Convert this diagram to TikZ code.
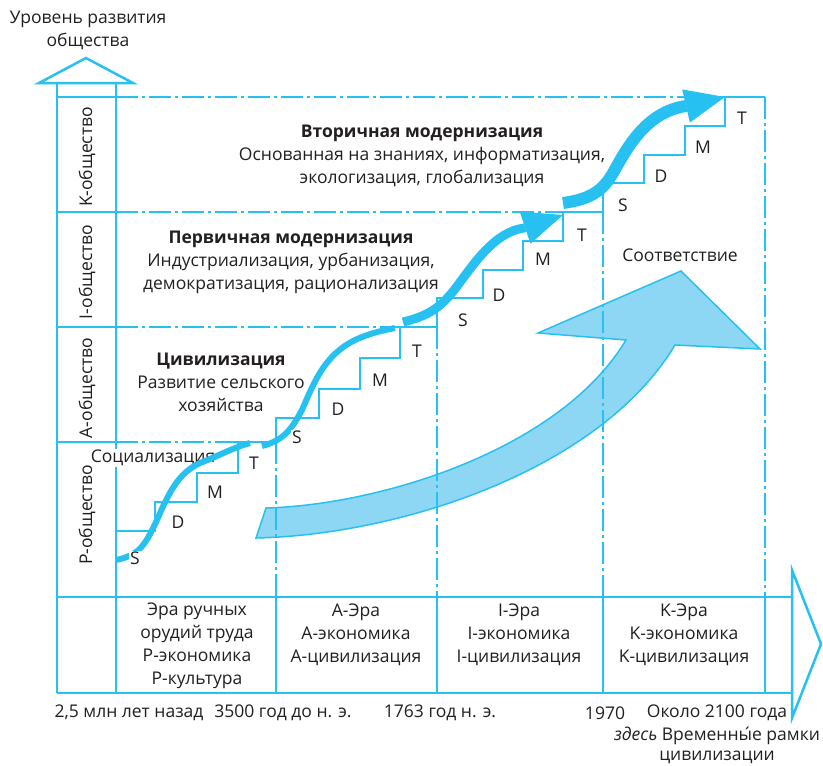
\documentclass[tikz,border=0pt]{standalone}
\usepackage{fontspec}
\setmainfont{Open Sans}
\usetikzlibrary{positioning,arrows.meta}
\definecolor{lineBlue}{RGB}{38,193,240}
\definecolor{arrowFill}{RGB}{142,215,244}
\definecolor{textGray}{RGB}{35,31,32}

\begin{document}
\begin{tikzpicture}[
	x=1pt, y=-1pt,
	frame/.style={draw=lineBlue, line width=2.5pt},
	dashdot/.style={draw=lineBlue, line width=2pt, dash pattern=on 22pt off 4pt on 3pt off 4pt},
	stairs/.style={draw=lineBlue, line width=2pt},
	curve/.style={draw=lineBlue, line width=6pt},
	txt/.style={font=\fontsize{17.5}{23}\selectfont, text=textGray, align=center, inner sep=1pt},
	stepLbl/.style={txt, fill=white},
	society/.style={txt, rotate=90},
	]
	\useasboundingbox (0,0) rectangle (823,766);
	
	% axes
	\draw[frame, fill=white] (39,83) -- (86,58) -- (133,83) -- cycle;
	\draw[frame, fill=white] (792,570) -- (821,644) -- (792,718) -- cycle;
	\draw[frame] (57,83) -- (57,693) (116,83) -- (116,693);
	\draw[frame] (57,97) -- (116,97) (57,212) -- (116,212) (57,327) -- (116,327) (57,442) -- (116,442);
	\draw[frame] (57,597) -- (792,597) (57,693) -- (792,693);
	\foreach \x in {276,437,603,765}
		\draw[frame] (\x,597) -- (\x,693);
	
	% big arrow
	\draw[draw=lineBlue, line width=1.5pt, fill=arrowFill]
		(266,508) .. controls (380,505) and (560,450) .. (626,340)
		-- (538,333) -- (681,271) -- (760,349) -- (675,345)
		.. controls (600,470) and (400,535) .. (256,538) -- cycle;
	
	% levels
	\draw[dashdot] (116,97) -- (725,97);
	\draw[dashdot] (116,212) -- (563,212);
	\draw[dashdot] (116,327) -- (400,327);
	\draw[dashdot] (116,442) -- (238,442);
	\draw[dashdot] (765,97) -- (765,597);
	\draw[dashdot] (603,212) -- (603,597);
	\draw[dashdot] (437,327) -- (437,597);
	\draw[dashdot] (276,442) -- (276,597);
	
	% stairs
	\draw[stairs] (116,531) -- (155,531) |- (197,502) |- (238,473) |- (276,442);
	\draw[stairs] (276,442) |- (319,418) |- (360,389) |- (400,358) |- (437,327);
	\draw[stairs] (437,327) |- (483,298) |- (523,270) |- (563,241) |- (603,212);
	\draw[stairs] (603,212) |- (644,183) |- (685,155) |- (725,126) |- (765,97);
	
	\node[txt, fill=white] (social) at (153,458) {Социализация};
	
	% growth curves
	\draw[curve] (116,560) .. controls (140,555) and (145,545) .. (157,520)
		.. controls (170,490) and (180,470) .. (205,461)
		.. controls (220,455) and (235,447) .. (250,443);
	\draw[curve] (262,446) .. controls (285,440) and (292,428) .. (302,410)
		.. controls (315,380) and (325,355) .. (355,340)
		.. controls (370,333) and (385,330) .. (395,328);
	\draw[curve, line width=9pt, -{Triangle[length=40pt, width=34pt, line width=0pt]}]
		(403,322) .. controls (428,316) and (440,308) .. (455,289)
		.. controls (475,262) and (495,232) .. (524,228) -- (563,215);
	\draw[curve, line width=12pt, -{Triangle[length=40pt, width=34pt, line width=0pt]}]
		(563,203) .. controls (592,199) and (603,190) .. (613,173)
		.. controls (626,150) and (645,112) .. (686,106) -- (725,97);
	
	\foreach \n/\x/\y [count=\i] in {S/135/558, D/178/522, M/215/492, T/254/463,
		S/297/437, D/338/409, M/380/380, T/417/351,
		S/463/320, D/499/295, M/543/259, T/582/235,
		S/623/205, D/661/176, M/703/147, T/742/118}
		\node[stepLbl] (lbl\i) at (\x,\y) {\n};
	
	% texts
	\node[txt] (level) at (88,30) {Уровень развития\\общества};
	\node[society] (kSoc) at (87,157) {K-общество};
	\node[society] (iSoc) at (87,272) {I-общество};
	\node[society] (aSoc) at (87,388) {A-общество};
	\node[society] (pSoc) at (87,515) {P-общество};
	
	\node[txt] (second) at (422,156) {\textbf{Вторичная модернизация}\\Основанная на знаниях, информатизация,\\экологизация, глобализация};
	\node[txt] (first) at (291,262) {\textbf{Первичная модернизация}\\Индустриализация, урбанизация,\\демократизация, рационализация};
	\node[txt] (civ) at (221,382) {\textbf{Цивилизация}\\Развитие сельского\\хозяйства};
	\node[txt] (match) at (680,255) {Соответствие};
	
	\node[txt] (eraP) at (197,646) {Эра ручных\\орудий труда\\P-экономика\\P-культура};
	\node[txt] (eraA) at (356,635) {A-Эра\\A-экономика\\A-цивилизация};
	\node[txt] (eraI) at (519,635) {I-Эра\\I-экономика\\I-цивилизация};
	\node[txt] (eraK) at (684,635) {K-Эра\\K-экономика\\K-цивилизация};
	
	\node[txt] (d1) at (129,713) {2,5 млн лет назад};
	\node[txt] (d2) at (283,713) {3500 год до н. э.};
	\node[txt] (d3) at (440,713) {1763 год н. э.};
	\node[txt] (d4) at (605,713) {1970};
	\node[txt] (d5) at (717,713) {Около 2100 года};
	\node[txt, font=\fontsize{17.5}{20}\selectfont] (note) at (717,745) {\textit{здесь} Временны́е рамки\\цивилизации};
\end{tikzpicture}
\end{document}
